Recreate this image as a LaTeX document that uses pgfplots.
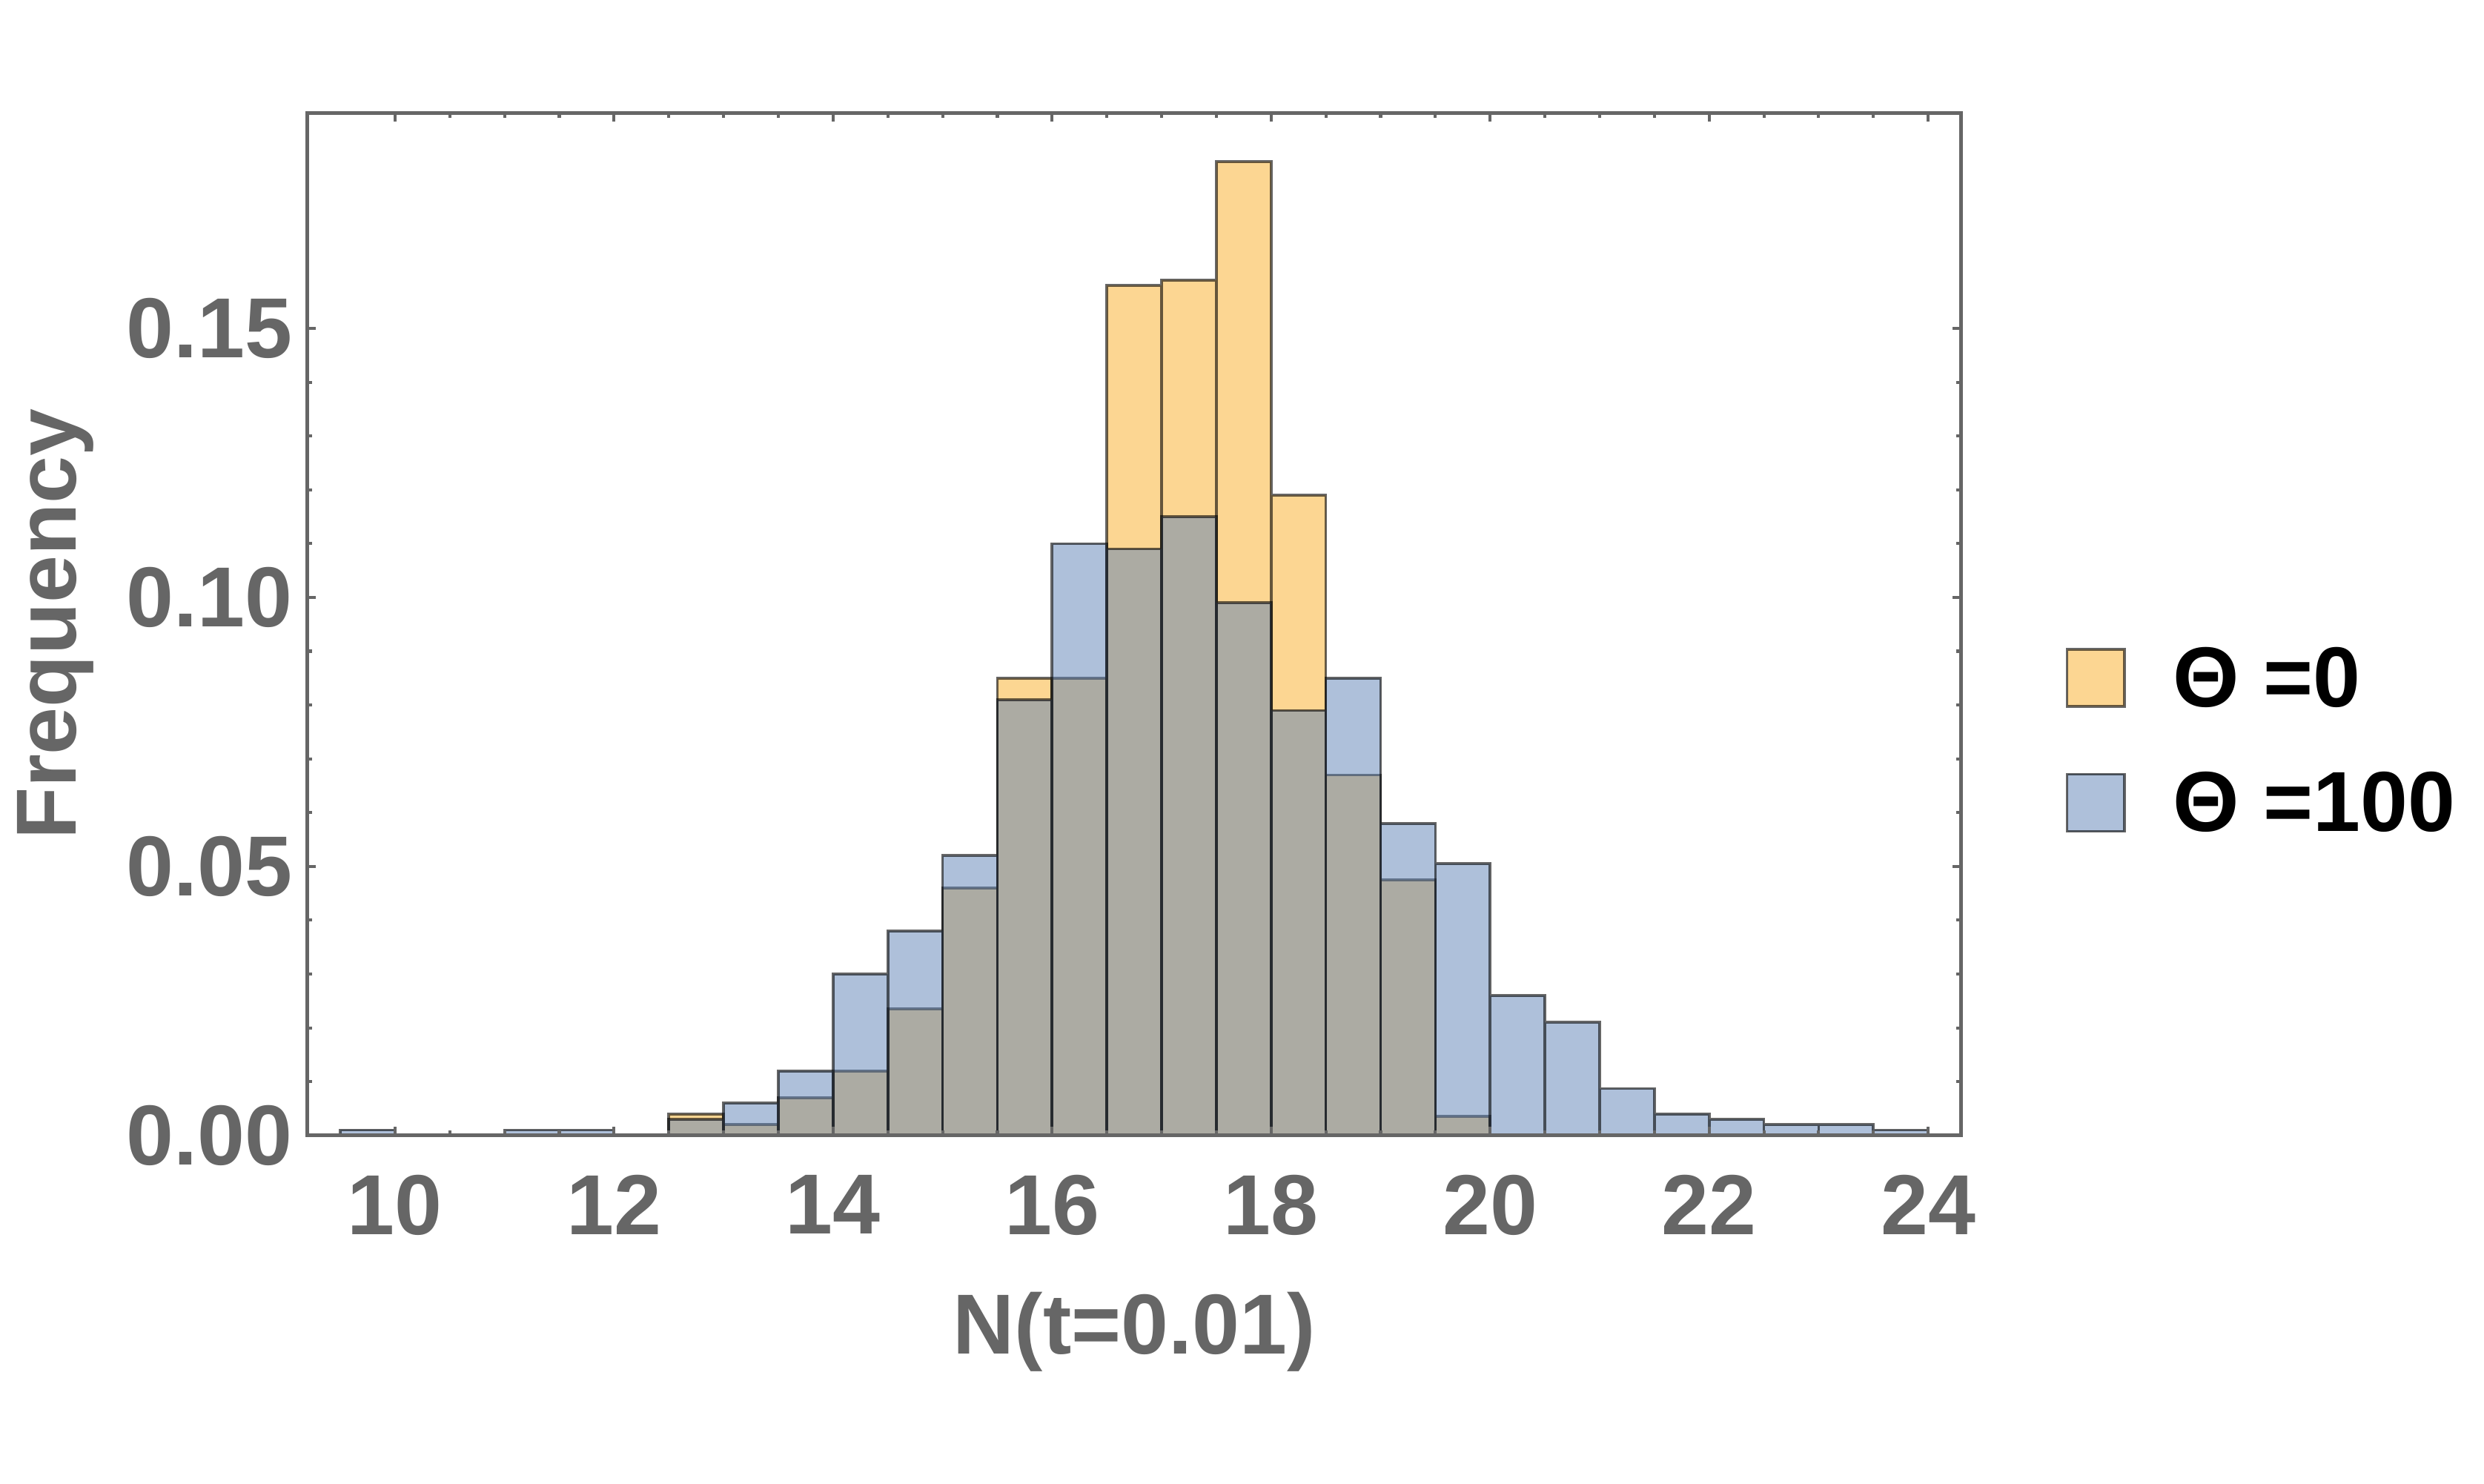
\documentclass[border=0pt]{standalone}
\usepackage{pgfplots}
\pgfplotsset{compat=1.18}
\usepackage{fontspec}
\setmainfont{Liberation Sans}
\definecolor{axgray}{RGB}{102,102,102}
\definecolor{orangeF}{RGB}{249,173,37}
\definecolor{blueF}{RGB}{94,129,181}
\begin{document}
\begin{tikzpicture}
\useasboundingbox (-50.5pt,-57.2pt) rectangle (357.5pt,186.5pt);
\begin{axis}[
  scale only axis, width=271.6pt, height=167.9pt,
  xmin=9.2, xmax=24.3, ymin=0, ymax=0.19,
  axis on top,
  xtick={10,12,...,24}, minor x tick num=3,
  ytick={0,0.05,0.1,0.15}, minor y tick num=4,
  scaled y ticks=false,
  tick align=inside,
  major tick length=1.4pt, minor tick length=0.8pt,
  axis line style={line width=0.6pt, color=axgray},
  tick style={color=axgray, line width=0.5pt},
  /pgf/number format/assume math mode=true,
  ticklabel style={font=\bfseries\fontsize{14}{16.8}\selectfont, text=axgray, inner sep=0pt},
  xticklabel style={anchor=north, yshift=-6.3pt},
  yticklabel style={anchor=east, xshift=-2.3pt, /pgf/number format/fixed, /pgf/number format/fixed zerofill, /pgf/number format/precision=2},
  xlabel={N(t=0.01)}, ylabel={Frequency},
  label style={font=\bfseries\fontsize{14}{16.8}\selectfont, text=axgray, inner sep=0pt},
  xlabel style={at={(axis description cs:0.5,0)}, anchor=center, yshift=-32.3pt},
  ylabel style={at={(axis description cs:-0.1524,0.5)}, anchor=center},
  legend cell align=left,
  legend style={at={(axis description cs:1,0.383)}, anchor=west, xshift=17pt,
    draw=none, fill=none, inner sep=0pt, row sep=9.25pt,
    font=\bfseries\fontsize{14}{16.8}\selectfont, text=black,
    nodes={inner sep=0pt},
    /tikz/every odd column/.append style={column sep=7.8pt}},
  legend image code/.code={\draw[#1] (0pt,-4.1pt) rectangle (9.4pt,5.3pt);},
]
\addplot[ybar interval, fill=orangeF, fill opacity=0.5, draw=black, draw opacity=0.6, line width=0.45pt]
coordinates {
(12.5,0.004) (13.0,0.002) (13.5,0.007) (14.0,0.012) (14.5,0.0235)
(15.0,0.046) (15.5,0.085) (16.0,0.085) (16.5,0.158) (17.0,0.159)
(17.5,0.181) (18.0,0.119) (18.5,0.067) (19.0,0.0475) (19.5,0.0035)
(20.0,0.0035)};
\addlegendentry{Θ =0}
\addplot[ybar interval, fill=blueF, fill opacity=0.5, draw=black, draw opacity=0.6, line width=0.45pt]
coordinates {
(12.5,0.003) (13.0,0.006) (13.5,0.012) (14.0,0.030) (14.5,0.038)
(15.0,0.052) (15.5,0.081) (16.0,0.110) (16.5,0.109) (17.0,0.115)
(17.5,0.099) (18.0,0.079) (18.5,0.085) (19.0,0.058) (19.5,0.0505)
(20.0,0.026) (20.5,0.021) (21.0,0.0087) (21.5,0.004) (22.0,0.003)
(22.5,0.002) (23.0,0.002) (23.5,0.001) (24.0,0.001)};
\addlegendentry{Θ =100}
\addplot[ybar interval, fill=blueF, fill opacity=0.5, draw=black, draw opacity=0.6, line width=0.45pt, forget plot]
coordinates {(9.5,0.001) (10.0,0.001)};
\addplot[ybar interval, fill=blueF, fill opacity=0.5, draw=black, draw opacity=0.6, line width=0.45pt, forget plot]
coordinates {(11.0,0.001) (11.5,0.001) (12.0,0.001)};
\end{axis}
\end{tikzpicture}
\end{document}
